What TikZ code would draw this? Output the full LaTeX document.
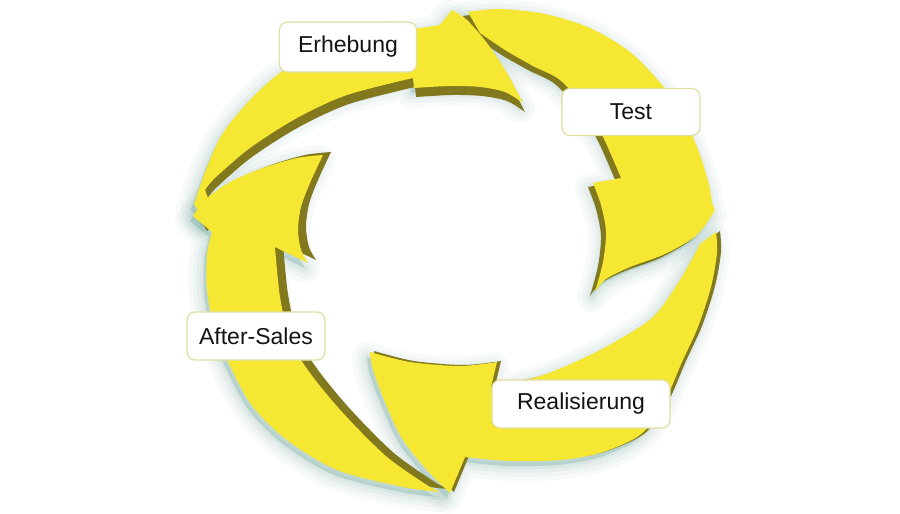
\documentclass[tikz,border=0pt]{standalone}
\usepackage{fontspec}
\setmainfont{Liberation Sans}
\definecolor{ylw}{RGB}{245,231,50}
\definecolor{olv}{RGB}{130,120,30}
\definecolor{glowc}{RGB}{80,150,135}
\definecolor{lblborder}{RGB}{225,222,160}
\def\pathT{(468,12) -- plot[smooth] coordinates {(468,12) (500,9) (545,14) (590,28) (630,52) (662,85) (685,120) (700,155) (709,185) (712,203)} -- (715,210) -- plot[smooth] coordinates {(715,210) (697,235) (665,254) (630,267) (606,279) (595,292)} -- plot[smooth] coordinates {(595,292) (603,262) (606,232) (601,205) (593,183)} -- (621,178) -- plot[smooth] coordinates {(621,178) (603,137) (585,108) (560,80) (533,66) (505,50) (480,33)} -- cycle}
\def\pathE{(205,222) -- (194,204) -- plot[smooth] coordinates {(194,204) (207,167) (223,133) (250,100) (280,73) (320,50) (370,35) (420,28) (440,25)} -- (452,10) -- plot[smooth] coordinates {(452,10) (467,20) (487,43) (507,73) (523,103)} -- plot[smooth] coordinates {(523,103) (505,92) (480,87) (450,86) (414,88)} -- (413,78) -- plot[smooth] coordinates {(413,78) (347,95) (297,118) (250,148) (215,178) (205,190)} -- (214,214) -- cycle}
\def\pathA{(440,492) -- plot[smooth] coordinates {(440,492) (403,487) (337,470) (287,440) (253,407) (232,370) (215,330) (207,290) (207,255) (212,232)} -- (193,216) -- plot[smooth] coordinates {(193,216) (205,200) (230,182) (263,168) (297,158) (323,155)} -- plot[smooth] coordinates {(323,155) (310,183) (301,207) (298,230) (301,250) (308,263)} -- (275,247) -- plot[smooth] coordinates {(275,247) (280,297) (290,340) (310,373) (343,413) (387,457) (430,487)} -- cycle}
\def\pathR{(716,232) -- plot[smooth] coordinates {(716,232) (717,253) (711,287) (698,327) (682,362) (663,405) (640,435) (600,453) (560,460) (510,461) (465,457)} -- (450,493) -- plot[smooth] coordinates {(450,493) (427,470) (403,440) (387,407) (373,370) (370,352)} -- plot[smooth] coordinates {(370,352) (410,362) (460,366) (497,362)} -- (491,387) -- plot[smooth] coordinates {(491,387) (537,377) (573,363) (613,343) (653,317) (680,280) (700,244)} -- cycle}
\begin{document}
\begin{tikzpicture}[x=1pt,y=-1pt,
  glow/.style={draw=glowc, line join=round, opacity=#1},
  side/.style={fill=olv},
  face/.style={fill=ylw},
  lbl/.style={draw=lblborder, line width=1.2pt, fill=white, rounded corners=8pt,
    font=\fontsize{23}{27}\selectfont, text=black!92, inner sep=0pt}]
\useasboundingbox (0,0) rectangle (900,514);
\fill[white] (0,0) rectangle (900,514);
% soft shadows
\foreach \p in {\pathT,\pathE,\pathA,\pathR}{
  \begin{scope}[shift={(-3,5)}]
  \fill[glowc, opacity=0.25] \p;
  \draw[glow=0.04, line width=30pt] \p;
  \draw[glow=0.05, line width=21pt] \p;
  \draw[glow=0.06, line width=13pt] \p;
  \draw[glow=0.07, line width=6pt] \p;
  \end{scope}
}
% Test arrow
\fill[side, shift={(-5,4)}] \pathT;
\fill[face] \pathT;
% Erhebung arrow
\fill[side, shift={(2,9)}] \pathE;
\fill[face] \pathE;
% After-Sales arrow
\fill[side, shift={(8,-3)}] \pathA;
\fill[face] \pathA;
% Realisierung arrow
\fill[side, shift={(4,-1)}] \pathR;
\fill[face] \pathR;
% labels
\node[lbl, minimum width=137pt, minimum height=50pt] (erh) at (348,47) {Erhebung};
\node[lbl, minimum width=138pt, minimum height=47pt] (tst) at (631,112) {Test};
\node[lbl, minimum width=178pt, minimum height=48pt] (rea) at (581,404) {Realisierung};
\node[lbl, minimum width=138pt, minimum height=48pt] (aft) at (256,336) {After-Sales};
\end{tikzpicture}
\end{document}
